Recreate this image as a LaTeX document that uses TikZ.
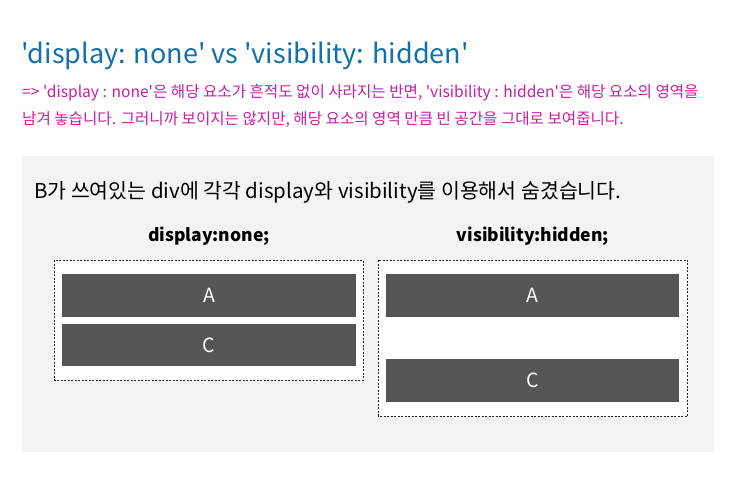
\documentclass[tikz,border=0pt]{standalone}
\usepackage{fontspec}
\setmainfont{Noto Sans CJK KR}[Ligatures=TeXOff]
\definecolor{titleblue}{RGB}{18,112,170}
\definecolor{magentatext}{RGB}{196,32,160}
\definecolor{panelgrey}{RGB}{243,243,243}
\definecolor{boxgrey}{RGB}{85,85,85}
\begin{document}
\begin{tikzpicture}[x=1pt,y=-1pt,
  dashbox/.style={draw=black!85,dashed,dash pattern=on 2pt off 1.5pt,line width=0.8pt,fill=white},
  greybox/.style={fill=boxgrey,text=white,font=\fontsize{19.5}{22}\selectfont},
  lbl/.style={font=\bfseries\fontsize{17.5}{20}\selectfont,text=black,anchor=base,inner sep=0pt},
  subtxt/.style={anchor=base west,inner sep=0pt,text=magentatext,font=\fontsize{15.6}{18}\selectfont},
]
\useasboundingbox (0,0) rectangle (737,484);
\fill[white] (0,0) rectangle (737,484);
\node[anchor=base west,inner sep=0pt,text=titleblue,font=\fontsize{27}{30}\selectfont] (title) at (21,64) {'display: none' vs 'visibility: hidden'};
\node[subtxt] (sub1) at (22,98) {=> 'display : none'은 해당 요소가 흔적도 없이 사라지는 반면, 'visibility : hidden'은 해당 요소의 영역을};
\node[subtxt] (sub2) at (22,125) {남겨 놓습니다. 그러니까 보이지는 않지만, 해당 요소의 영역 만큼 빈 공간을 그대로 보여줍니다.};
\fill[panelgrey] (22,156) rectangle (714,452);
\node[anchor=base west,inner sep=0pt,font=\fontsize{20.5}{23}\selectfont] (intro) at (34,199) {B가 쓰여있는 div에 각각 display와 visibility를 이용해서 숨겼습니다.};
\node[lbl] (l1) at (209,241) {display:none;};
\node[lbl] (l2) at (533,241) {visibility:hidden;};
% left
\draw[dashbox] (54.3,260.3) rectangle (363.3,380);
\node[greybox,minimum width=294pt,minimum height=42.7pt,inner sep=0pt] (a1) at (209,295.3) {A};
\node[greybox,minimum width=294pt,minimum height=42pt,inner sep=0pt] (c1) at (209,345) {C};
% right
\draw[dashbox] (378.3,260.3) rectangle (687.7,416);
\node[greybox,minimum width=293pt,minimum height=42.7pt,inner sep=0pt] (a2) at (532.5,295.3) {A};
\node[greybox,minimum width=293pt,minimum height=42.7pt,inner sep=0pt] (c2) at (532.5,380.3) {C};
\end{tikzpicture}
\end{document}
